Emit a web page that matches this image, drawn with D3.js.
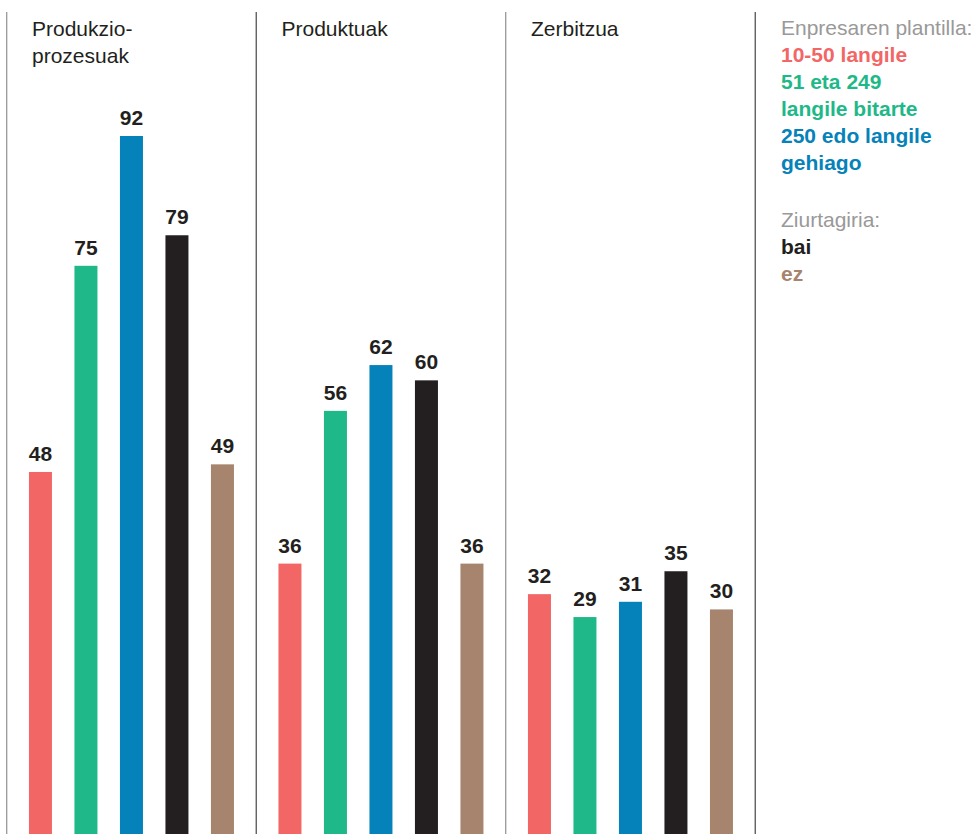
<!DOCTYPE html>
<html>
<head>
<meta charset="utf-8">
<script src="https://cdn.jsdelivr.net/npm/d3@7"></script>
<style>
  html, body { margin: 0; padding: 0; background: #fff; }
  svg { display: block; font-family: "Liberation Sans", Arial, Helvetica, sans-serif; }
</style>
</head>
<body>
<svg id="chart" width="974" height="834"></svg>
<script>
// ---- data ----
const categories = ["Produkzio-\nprozesuak", "Produktuak", "Zerbitzua"];
const series = ["10-50 langile", "51 eta 249 langile bitarte", "250 edo langile gehiago", "bai", "ez"];
const valuesProdukzio = [48, 75, 92, 79, 49];
const valuesProduktuak = [36, 56, 62, 60, 36];
const valuesZerbitzua = [32, 29, 31, 35, 30];
const values = [valuesProdukzio, valuesProduktuak, valuesZerbitzua];
const legendTitle1 = "Enpresaren plantilla:";
const legendLines1 = [
  { text: "10-50 langile", s: 0 },
  { text: "51 eta 249", s: 1 },
  { text: "langile bitarte", s: 1 },
  { text: "250 edo langile", s: 2 },
  { text: "gehiago", s: 2 }
];
const legendTitle2 = "Ziurtagiria:";
const legendLines2 = [
  { text: "bai", s: 3 },
  { text: "ez", s: 4 }
];

// ---- styles ----
const colors = ["#f26666", "#1fb888", "#0582b9", "#231f20", "#a6846e"];
const sepColors = ["#999999", "#231f20", "#999999", "#231f20"];
const sepWidths = [1.3, 1, 1.3, 1];

const svg = d3.select("#chart");

// panel scale
const panelX = d3.scaleBand().domain(categories).range([6.7, 755.2]).padding(0);
// bar scale within panel
const barX = d3.scaleBand().domain(series)
  .range([11, 11 + 227.5])
  .paddingInner(0.4945).paddingOuter(0.2473);
const y = d3.scaleLinear().domain([0, 92]).range([838.5, 136]);

// separators
const sepPositions = categories.map(c => panelX(c)).concat([panelX(categories[2]) + panelX.bandwidth()]);
svg.selectAll("line.sep").data(sepPositions).join("line")
  .attr("class", "sep")
  .attr("x1", d => d).attr("x2", d => d)
  .attr("y1", 12).attr("y2", 834)
  .attr("stroke", (d, i) => sepColors[i])
  .attr("stroke-width", (d, i) => sepWidths[i]);

// panels
const panels = svg.selectAll("g.panel").data(categories).join("g")
  .attr("class", "panel")
  .attr("transform", c => `translate(${panelX(c)},0)`);

// titles
panels.append("text")
  .attr("x", 25.3)
  .attr("y", 35.5)
  .attr("font-size", 21)
  .attr("fill", "#231f20")
  .selectAll("tspan").data(c => c.split("\n")).join("tspan")
  .attr("x", 25.3)
  .attr("dy", (d, i) => i === 0 ? 0 : 27)
  .text(d => d);

// bars
panels.each(function (c, pi) {
  const g = d3.select(this);
  const vals = values[pi].map((v, i) => ({ s: series[i], v, i }));
  g.selectAll("rect").data(vals).join("rect")
    .attr("x", d => barX(d.s))
    .attr("width", barX.bandwidth())
    .attr("y", d => y(d.v))
    .attr("height", d => y(0) - y(d.v))
    .attr("fill", d => colors[d.i]);
  g.selectAll("text.val").data(vals).join("text")
    .attr("class", "val")
    .attr("x", d => barX(d.s) + barX.bandwidth() / 2)
    .attr("y", d => y(d.v) - 11)
    .attr("text-anchor", "middle")
    .attr("font-size", 21)
    .attr("font-weight", "bold")
    .attr("fill", "#231f20")
    .text(d => d.v);
});

// legend
const lg = svg.append("g").attr("transform", "translate(781,0)");
lg.append("text").attr("x", 0).attr("y", 35).attr("font-size", 21).attr("fill", "#999999").text(legendTitle1);
lg.selectAll("text.l1").data(legendLines1).join("text")
  .attr("class", "l1")
  .attr("x", 0).attr("y", (d, i) => 62 + i * 27)
  .attr("font-size", 21).attr("font-weight", "bold")
  .attr("fill", d => colors[d.s]).text(d => d.text);
lg.append("text").attr("x", 0).attr("y", 227).attr("font-size", 21).attr("fill", "#999999").text(legendTitle2);
lg.selectAll("text.l2").data(legendLines2).join("text")
  .attr("class", "l2")
  .attr("x", 0).attr("y", (d, i) => 254 + i * 26.5)
  .attr("font-size", 21).attr("font-weight", "bold")
  .attr("fill", d => colors[d.s]).text(d => d.text);
</script>
</body>
</html>
